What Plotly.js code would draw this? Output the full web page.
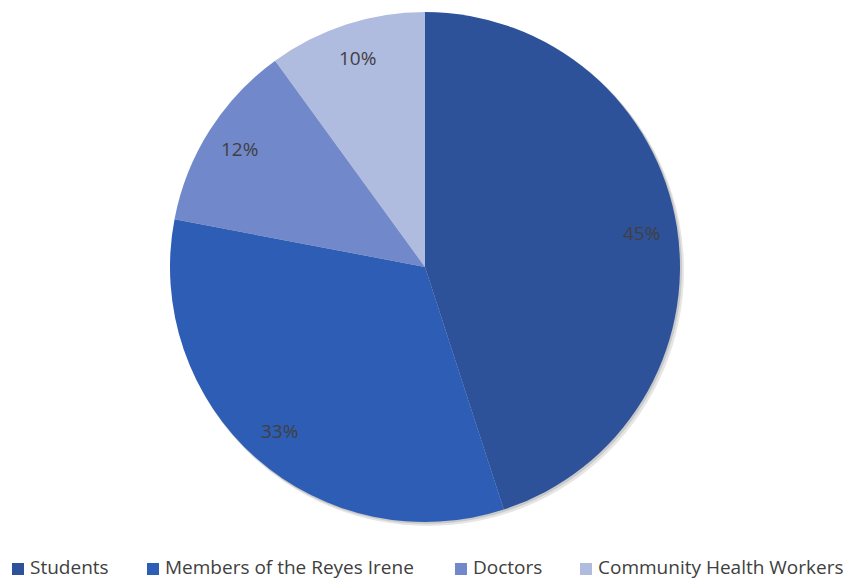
<!DOCTYPE html>
<html>
<head>
<meta charset="utf-8">
<script src="https://cdn.plot.ly/plotly-3.0.1.min.js"></script>
<style>html,body{margin:0;padding:0;background:#fff}#chart{width:860px;height:579px}</style>
</head>
<body>
<div id="chart"></div>
<script>
const labels = ["Students", "Members of the Reyes Irene", "Doctors", "Community Health Workers"];
const values = [45, 33, 12, 10];
const colors = ["#2d5299", "#2e5db5", "#7189cb", "#b0bbe0"];

const FONT = "Open Sans, Liberation Sans, sans-serif";
const W = 860, H = 579;
const M = {l: 170, r: 180, t: 12, b: 57};
const PW = W - M.l - M.r, PH = H - M.t - M.b;
const px2x = p => (p - M.l) / PW;
const px2y = p => (H - M.b - p) / PH;

const trace = {
  type: "pie",
  labels: labels,
  values: values,
  sort: false,
  direction: "clockwise",
  rotation: 0,
  marker: {colors: colors, line: {width: 0}},
  textinfo: "none",
  hoverinfo: "label+percent",
  showlegend: false
};

// percentage labels near the outer rim, angles derived from the values
const total = values.reduce((a, b) => a + b, 0);
const annotations = [];
let cum = 0;
values.forEach((v, i) => {
  const mid = (cum + v / 2) / total * 2 * Math.PI;
  cum += v;
  const r = 0.43;
  annotations.push({
    xref: "paper", yref: "paper",
    x: 0.5 + r * Math.sin(mid),
    y: 0.5 + r * Math.cos(mid),
    text: Math.round(v / total * 100) + "%",
    showarrow: false,
    xanchor: "center", yanchor: "middle",
    font: {family: FONT, size: 19, color: "#404040"}
  });
});

// custom legend (square swatch + label) along the bottom
const legendTextX = [28, 163, 471, 596];
const legendY = 567;
const shapes = [];
// soft shadow behind the pie
shapes.push({type: "circle", layer: "below", xref: "paper", yref: "paper",
  x0: px2x(172), x1: px2x(684), y0: px2y(15), y1: px2y(526),
  fillcolor: "rgba(0,0,0,0.10)", line: {width: 0}});
shapes.push({type: "circle", layer: "below", xref: "paper", yref: "paper",
  x0: px2x(171), x1: px2x(682), y0: px2y(13), y1: px2y(524),
  fillcolor: "rgba(0,0,0,0.12)", line: {width: 0}});
labels.forEach((lab, i) => {
  const tx = legendTextX[i];
  shapes.push({
    type: "rect", xref: "paper", yref: "paper",
    x0: px2x(tx - 16), x1: px2x(tx - 4),
    y0: px2y(legendY + 8), y1: px2y(legendY - 4),
    fillcolor: colors[i], line: {width: 0}
  });
  annotations.push({
    xref: "paper", yref: "paper",
    x: px2x(tx), y: px2y(legendY),
    xanchor: "left", yanchor: "middle",
    text: lab, showarrow: false,
    font: {family: FONT, size: 19, color: "#404040"}
  });
});

const layout = {
  width: W,
  height: H,
  margin: M,
  paper_bgcolor: "#ffffff",
  showlegend: false,
  annotations: annotations,
  shapes: shapes
};

Plotly.newPlot("chart", [trace], layout, {displayModeBar: false, staticPlot: true});
</script>
</body>
</html>
